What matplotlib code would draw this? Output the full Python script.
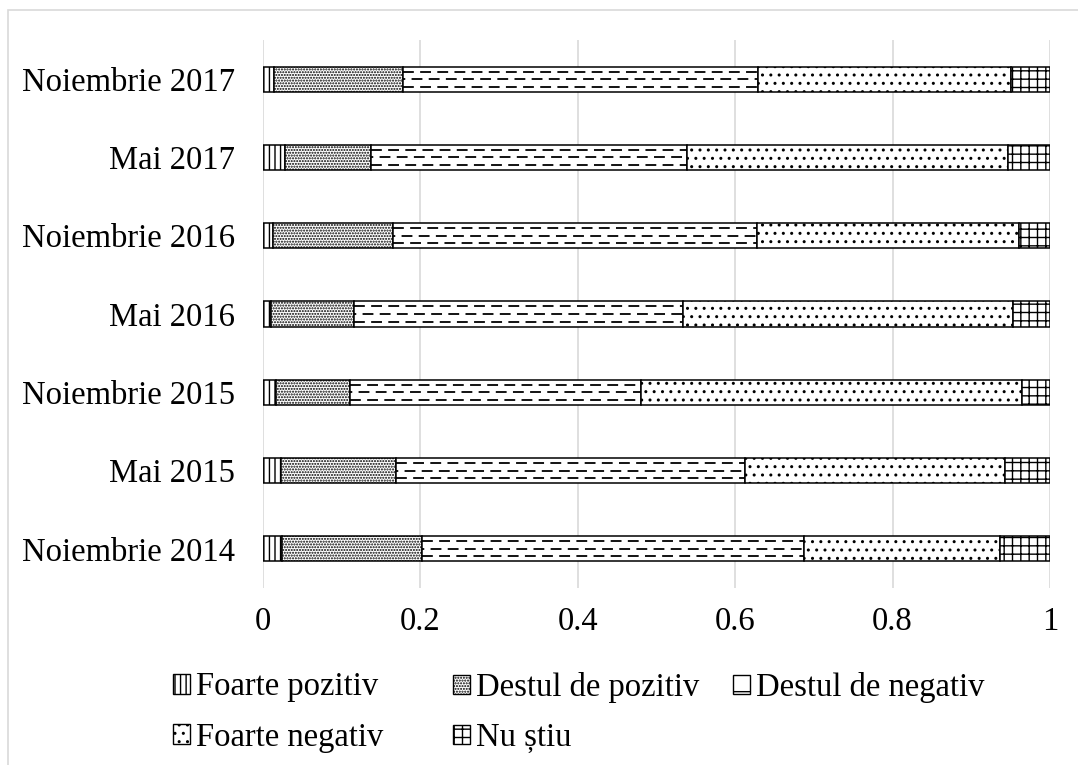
import matplotlib.pyplot as plt
from matplotlib.patches import Patch, Rectangle
from matplotlib.ticker import FuncFormatter

plt.rcParams["font.family"] = ["Liberation Serif", "DejaVu Serif"]
plt.rcParams["hatch.linewidth"] = 1.0
plt.rcParams["hatch.color"] = "black"

# survey waves, bottom to top
periods = ["Noiembrie 2014", "Mai 2015", "Noiembrie 2015", "Mai 2016",
           "Noiembrie 2016", "Mai 2017", "Noiembrie 2017"]

# answer shares per wave
foarte_pozitiv = [0.024, 0.023, 0.017, 0.010, 0.013, 0.028, 0.014]
destul_pozitiv = [0.178, 0.146, 0.093, 0.106, 0.152, 0.109, 0.164]
destul_negativ = [0.486, 0.444, 0.370, 0.418, 0.463, 0.402, 0.451]
foarte_negativ = [0.248, 0.330, 0.485, 0.419, 0.332, 0.408, 0.321]
nu_stiu = [0.064, 0.057, 0.035, 0.047, 0.040, 0.053, 0.050]

labels = ["Foarte pozitiv", "Destul de pozitiv", "Destul de negativ",
          "Foarte negativ", "Nu știu"]
series = [foarte_pozitiv, destul_pozitiv, destul_negativ, foarte_negativ, nu_stiu]
hatches = ["|||", "......", "", "..", "++"]

FS = 23.5
W, H = 1078, 765

fig = plt.figure(figsize=(W / 100, H / 100), dpi=100)
ax = fig.add_axes([263 / W, 1 - 588 / H, (1050 - 263) / W, (588 - 40) / H])

y = list(range(len(periods)))
left = [0.0] * len(periods)
containers = []
for vals, hatch in zip(series, hatches):
    bc = ax.barh(y, vals, height=0.32, left=left, color="white",
                 edgecolor="black", linewidth=1.1, hatch=hatch, zorder=3)
    containers.append(bc)
    left = [l + v for l, v in zip(left, vals)]

# dashed fill for "Destul de negativ"
for rect in containers[2]:
    x0 = rect.get_x()
    x1 = x0 + rect.get_width()
    yb, h = rect.get_y(), rect.get_height()
    for frac, off in zip((0.2, 0.5, 0.8), (0, 4.75, 0)):
        lc = ax.hlines(yb + frac * h, x0, x1, colors="black", linewidth=1.3,
                       linestyles=[(off, (6, 3.5))], zorder=3.5)
        lc.set_clip_path(rect)

ax.set_xlim(0, 1)
ax.set_ylim(-0.5, len(periods) - 0.5)
ax.set_xticks([0, 0.2, 0.4, 0.6, 0.8, 1.0])
ax.xaxis.set_major_formatter(FuncFormatter(lambda v, _: f"{v:g}"))
ax.set_yticks(y)
ax.set_yticklabels(periods)
ax.tick_params(axis="x", length=0, pad=13, labelsize=FS)
ax.tick_params(axis="y", length=0, pad=20, labelsize=FS)
ax.grid(axis="x", color="#d9d9d9", linewidth=1.2, zorder=0)
ax.set_axisbelow(True)
for s in ax.spines.values():
    s.set_visible(False)

# outer frame
fig.patches.append(Rectangle((8 / W, -0.2), 1.2, 1.2 - 10 / H, transform=fig.transFigure,
                             facecolor="none", edgecolor="#d9d9d9", linewidth=1.2))

handles = [Patch(facecolor="white", edgecolor="black", hatch=h if h else "-",
                 linewidth=1.0, label=l) for h, l in zip(hatches, labels)]

# legend laid out in equal-width columns, filled row by row
leg_kw = dict(frameon=False, fontsize=FS, borderpad=0, borderaxespad=0,
              handlelength=0.52, handleheight=0.55, handletextpad=0.2,
              labelspacing=0.6, loc="upper left")
top = 1 - 672 / H
for idx, xpx in (([0, 3], 173), ([1, 4], 453), ([2], 733)):
    fig.legend(handles=[handles[i] for i in idx], bbox_to_anchor=(xpx / W, top), **leg_kw)

fig.savefig("out.png", dpi=100)
